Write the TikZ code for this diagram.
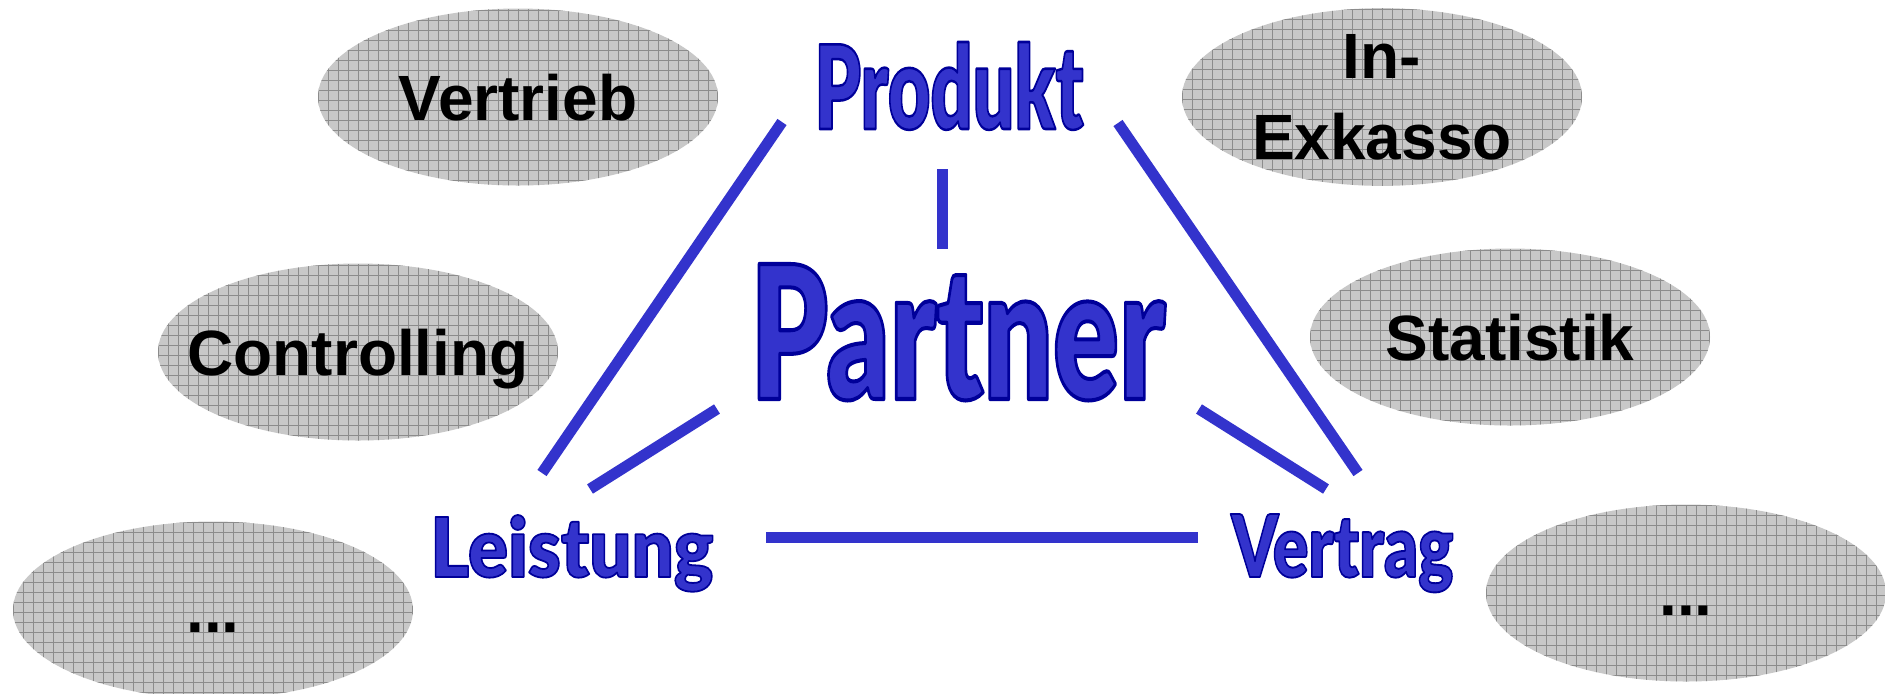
\documentclass[tikz,border=0pt]{standalone}
\usepackage{fontspec}
\setmainfont{Liberation Sans}
\newfontfamily\heavyfont{Lato}[UprightFont=* Black]
\usepackage{graphicx}
\usetikzlibrary{shapes.geometric}
\definecolor{lineblue}{RGB}{51,51,204}
\definecolor{blobfill}{RGB}{200,200,200}
\definecolor{gridc}{RGB}{140,140,140}
\newcommand\outlinetxt[1]{{\color{lineblue}\special{pdf:literal direct 0 0 0.6 RG 1.3 w 1 j 2 Tr}#1\special{pdf:literal direct 0 Tr}}}
\newcommand\zw[1]{\makebox[0pt]{#1}}
\tikzset{
  blob/.style={ellipse, minimum width=200pt, minimum height=88.5pt, inner sep=0pt,
    fill=blobfill, font=\fontsize{32}{40.5}\selectfont\bfseries, align=center,
    path picture={\draw[gridc, line width=0.5pt] (path picture bounding box.south west) grid[step=5pt] (path picture bounding box.north east);}},
  oneline/.style={text depth=0pt},
  conn/.style={draw=lineblue, line width=5.5pt},
  biglabel/.style={inner sep=0pt, anchor=base west, font=\fontsize{60}{60}\selectfont\heavyfont},
}
\begin{document}
\begin{tikzpicture}[x=0.5pt, y=-0.5pt]
\path[use as bounding box, fill=white] (0,0) rectangle (1885,693);
% grey ellipses
\node[blob, oneline] (vertrieb) at (518,97) {\zw{Vertrieb}};
\node[blob] (inexkasso) at (1382,97) {\zw{In-}\\\zw{Exkasso}};
\node[blob, oneline] (controlling) at (358,352) {\zw{Controlling}};
\node[blob, oneline] (statistik) at (1510,337) {\zw{Statistik}};
\node[blob, oneline] (dotsleft) at (213,610) {\zw{\vphantom{V}...}};
\node[blob, oneline] (dotsright) at (1686,593) {\zw{\vphantom{V}...}};
% blue labels
\node[biglabel] (produkt) at (814,129) {\resizebox{134.5pt}{43.5pt}{\outlinetxt{Produkt}}};
\node[biglabel] (partner) at (750,399) {\resizebox{207.5pt}{67.5pt}{\outlinetxt{Partner}}};
\node[biglabel] (leistung) at (430,577) {\resizebox{141.5pt}{31pt}{\outlinetxt{Leistung}}};
\node[biglabel] (vertrag) at (1231,577) {\resizebox{111pt}{31.5pt}{\outlinetxt{Vertrag}}};
% connector end points
\coordinate (pl-a) at (782,122); \coordinate (pl-b) at (542,473);
\coordinate (pv-a) at (1118,123); \coordinate (pv-b) at (1358,473);
\coordinate (pp-a) at (942,169); \coordinate (pp-b) at (942,249);
\coordinate (tl-a) at (717,409); \coordinate (tl-b) at (590,489);
\coordinate (tv-a) at (1199,409); \coordinate (tv-b) at (1326,489);
\coordinate (lv-a) at (766,537.5); \coordinate (lv-b) at (1198,537.5);
\draw[conn] (pl-a) -- (pl-b);
\draw[conn] (pv-a) -- (pv-b);
\draw[conn] (pp-a) -- (pp-b);
\draw[conn] (tl-a) -- (tl-b);
\draw[conn] (tv-a) -- (tv-b);
\draw[conn] (lv-a) -- (lv-b);
\end{tikzpicture}
\end{document}
